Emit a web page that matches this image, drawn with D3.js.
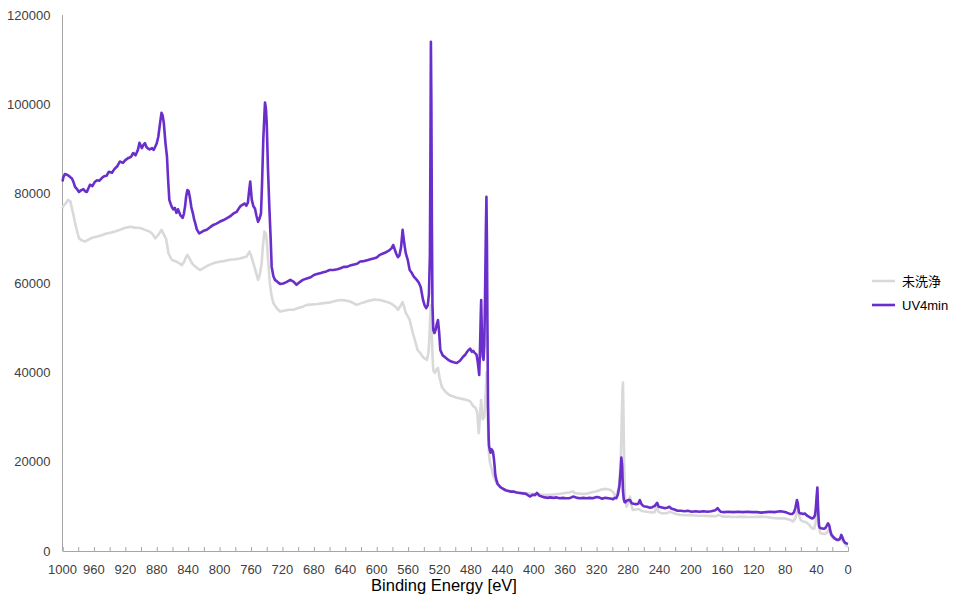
<!DOCTYPE html>
<html>
<head>
<meta charset="utf-8">
<script src="https://cdn.jsdelivr.net/npm/d3@7"></script>
<style>
  body { margin: 0; background: #fff; }
  text { font-family: "Liberation Sans", Arial, "Noto Sans CJK JP", sans-serif; }
</style>
</head>
<body>
<div id="chart"></div>
<script>

// binding energy (eV) and counts
const seriesNames = ['未洗浄', 'UV4min'];
const seriesColors = ['#d9d9d9', '#6a2ecb'];

const rawEnergy = [
  1000, 999, 996, 993, 990, 988, 986, 984, 981, 979, 975, 971, 966, 961, 956, 950, 944, 938, 932, 927,
  921, 914, 908, 901, 895, 889, 885, 882, 878, 874, 871, 868, 865, 861, 858, 855, 851, 848, 845, 843,
  841, 838, 835, 833, 829, 825, 820, 814, 808, 802, 795, 787, 780, 774, 770, 766, 764, 762, 760, 757,
  754, 751, 749, 746.5, 745, 743, 741, 740, 738, 736, 734, 731.6, 727, 723, 718, 712, 706, 700, 694,
  689, 682, 675, 668, 661, 654, 647, 640, 633, 625.5, 618, 610, 603, 596, 590, 584, 579, 575, 573,
  570, 567, 565, 563, 560, 558, 554, 551, 548, 544, 541, 538, 536, 534, 533, 532, 531, 530, 529, 528,
  526, 524, 522, 520, 517, 514, 511, 506, 498, 490, 485, 481, 477, 474, 472, 471, 470, 469, 468, 467,
  466, 465, 463, 461, 460, 459, 458, 457, 456, 455, 453, 452, 450, 448, 447, 445, 443, 440, 436, 431,
  426.5, 420, 414, 408, 402, 396, 390, 384, 378, 372, 366, 360, 355, 352, 350, 348, 345, 340, 333, 327,
  320, 313, 308, 303, 299, 297, 294, 291, 289, 288, 287, 286.5, 286, 285, 284, 282, 280, 277.5, 276, 274,
  270, 266, 264, 261, 256, 250, 246, 243.5, 241, 236, 230, 227, 224, 219, 214, 208, 200, 192, 184, 176,
  168, 164, 160, 152, 144, 136, 128, 120, 112, 104, 95, 88, 80, 74, 70, 67, 65, 63.7, 62, 60,
  57, 54, 50, 46, 43, 41, 39, 37.5, 35.6, 33, 30, 27, 25, 23, 21, 19, 16, 13, 10.6, 8.5,
  6, 4, 2, 0
];
const rawCounts = [
  76700, 77200, 77800, 78600, 78300, 76700, 75200, 73400, 71300, 70000, 69500, 69300, 69800, 70200, 70400, 70700, 71100, 71300, 71600, 71900,
  72300, 72600, 72400, 72300, 71900, 71500, 70900, 70000, 70800, 71900, 70900, 69800, 66600, 65200, 65000, 64800, 64400, 64000, 64800, 65700,
  66300, 65400, 64400, 64000, 63400, 62900, 63400, 64000, 64400, 64700, 64900, 65200, 65300, 65500, 65700, 65900, 66400, 67000, 66200, 64400,
  62600, 60700, 61700, 64400, 68000, 71500, 71000, 69600, 64500, 59900, 57300, 55500, 54300, 53600, 53800, 54000, 54000, 54400, 54700,
  55100, 55200, 55300, 55500, 55600, 55900, 56200, 56100, 55800, 55100, 55600, 56000, 56300, 56200, 55900, 55600, 55100, 54500, 54000,
  54800, 55700, 54600, 53300, 52400, 51700, 48800, 47000, 45000, 44200, 43400, 43000, 42800, 44500, 47500, 52000, 55000, 50000, 44000, 40500,
  39900, 40600, 41000, 38800, 36700, 36000, 35400, 34800, 34300, 34000, 33800, 33500, 32400, 32000, 31000, 28500, 26400, 29000, 31600, 33800,
  31000, 29500, 30000, 36000, 40000, 33000, 26000, 21500, 20000, 19300, 17900, 17000, 16200, 15400, 15000, 14700, 14300, 14000, 13700, 13500,
  13300, 13100, 13000, 12900, 12800, 12700, 12600, 12500, 12600, 12700, 12800, 13000, 13100, 13300, 13300, 13000, 12900, 12800, 12800, 13100,
  13400, 13800, 13900, 13700, 13200, 12500, 12800, 15000, 22000, 30000, 36500, 37700, 33000, 20000, 12500, 9900, 10600, 12200, 10400, 9200,
  9300, 9400, 9100, 8900, 8800, 8600, 8700, 9900, 8700, 8400, 8500, 8800, 8600, 8300, 8100, 8000, 8000, 7900, 7900, 7800,
  7800, 8100, 7700, 7700, 7600, 7700, 7600, 7600, 7700, 7600, 7400, 7300, 7300, 7000, 6600, 7300, 8700, 9200, 7800, 6900,
  6600, 6500, 6000, 5100, 5000, 6500, 11000, 8000, 4000, 3900, 3800, 4000, 4700, 4200, 3300, 2800, 2600, 2500, 2500, 2600,
  2200, 1600, 1100, 1100
];

const uvEnergy = [
  1000, 999, 997, 995, 992, 990, 988, 986, 984, 981, 979, 976, 973.5, 971, 969, 967, 965, 962, 959, 956,
  953, 950, 947, 944, 941, 937, 934, 930, 927, 923, 920, 916, 913, 910, 907, 904, 902, 900, 899, 897,
  895, 893, 891, 889, 886, 884, 882, 880, 878, 876, 874, 872.5, 871, 869, 867, 865.5, 864, 862.5, 861, 859,
  857, 855, 853, 850, 847, 845.5, 844, 842.5, 841, 839.5, 838, 836, 834, 832.5, 831, 829, 826, 823, 820, 816.4,
  812, 808, 804, 800, 795, 790, 786, 782, 778, 774, 771, 768, 766, 764, 762.5, 761, 759, 757, 755, 753,
  751, 749, 747.3, 746, 744.4, 743, 742.2, 741, 740, 738.5, 736.7, 735, 733.7, 731.5, 729.5, 726, 723, 719, 715, 710,
  706, 702, 698, 694, 689, 684, 680, 676, 672, 668, 664, 660, 655, 650, 646, 642, 638, 634, 630, 625,
  621, 616, 612, 608, 604, 600, 596, 592, 588, 584, 581, 579, 577, 575, 573, 571, 569, 567, 565, 563,
  560.5, 558, 555.5, 553, 551, 549, 546.5, 544, 541, 539, 537, 535, 533.5, 532.3, 531.6, 531, 530.4, 529.7, 529, 528,
  526.5, 525, 523.5, 522, 520.5, 519, 516, 513, 509, 505, 501, 498, 494, 490, 487, 485, 483, 481, 479, 477,
  475, 473, 471.5, 470.5, 469.5, 468.5, 467.5, 467, 466, 465, 464, 463, 462, 461, 460.3, 459.6, 459, 458.3, 457.5, 457,
  456, 455, 454, 453, 452, 451, 450, 449, 447.5, 446, 443, 440, 436, 430, 426, 422, 418, 414, 410, 405,
  401, 398.5, 396, 393, 390, 386, 383, 379, 375, 371, 367, 363, 359, 355, 352, 350, 348, 345, 341, 337,
  333, 329, 325, 320, 317, 313, 309, 305, 301, 299, 297, 295, 293, 291, 289.5, 288.5, 287.5, 286.5, 285.5, 284.5,
  283.5, 282, 280, 277.5, 275.5, 273, 270, 267, 265, 263, 260, 256, 252, 249, 246, 243, 241, 238, 234, 230,
  227.5, 225, 221, 217, 213, 208, 204, 199, 194, 189, 184, 179, 174, 169, 166, 164, 162, 158, 152, 146,
  140, 134, 128, 122, 116, 110, 104, 99, 94, 91, 86, 82, 78, 74, 71, 69, 67, 65, 64, 62.5,
  61, 59, 57, 55, 52, 49, 46, 44, 42, 41, 40, 39, 38, 37, 36, 34, 31, 29, 27, 25.5,
  24, 22.5, 21, 19, 16, 14, 12, 10, 8.5, 7, 5.5, 4, 2, 0
];
const uvCounts = [
  82700, 83600, 84400, 84300, 84000, 83700, 83400, 82600, 81500, 80900, 80400, 80800, 81000, 80500, 80400, 81200, 82000, 81700, 82600, 83000,
  82900, 83500, 83900, 84000, 84900, 84700, 85500, 86200, 87200, 86900, 87500, 88000, 88200, 89100, 88600, 89800, 91400, 90600, 90200, 90900,
  91300, 90400, 90100, 89900, 90200, 89800, 90500, 91300, 92800, 95500, 98100, 97500, 95800, 91500, 88300, 83000, 78600, 77800, 77100, 76500,
  76800, 75700, 76500, 75200, 74600, 75500, 77100, 79500, 80800, 80600, 79300, 77000, 75600, 74300, 73400, 72000, 71100, 71400, 71700, 71900,
  72500, 73000, 73300, 73700, 74100, 74600, 75000, 75600, 76000, 77100, 77500, 77800, 77300, 78000, 80500, 82700, 78600, 77200, 76700, 75000,
  73700, 74500, 75600, 82000, 92000, 97500, 100400, 99000, 95800, 86000, 77100, 70000, 63600, 61500, 60700, 60200, 59800, 59900, 60200, 60700,
  60300, 59600, 60200, 60700, 61000, 61300, 61800, 62000, 62200, 62400, 62600, 62900, 62900, 63100, 63300, 63600, 63600, 63900, 64100, 64300,
  64800, 64900, 65100, 65300, 65500, 65700, 66300, 66600, 66900, 67300, 67800, 68500, 67500, 66500, 65800, 66200, 68000, 71900, 69000, 66700,
  65200, 62900, 62300, 61500, 61100, 60700, 60100, 59100, 56200, 55000, 54400, 55000, 57500, 66000, 88000, 114000, 100000, 72000, 55000, 49500,
  48800, 49500, 50800, 51700, 49000, 45000, 43800, 43400, 42800, 42400, 42200, 42100, 42600, 43500, 44000, 44600, 45000, 45300, 44600, 44800,
  44300, 44000, 42500, 41000, 39400, 45000, 53000, 56200, 48000, 43500, 42800, 46000, 58000, 72000, 79300, 68000, 50000, 33000, 25500, 23500,
  22600, 22000, 22800, 22600, 22200, 21000, 19200, 17000, 15800, 15000, 14400, 14000, 13600, 13300, 13300, 13100, 13000, 12900, 12800, 12200,
  12600, 12500, 13000, 12400, 12200, 12000, 11900, 12000, 11900, 12000, 11800, 11900, 11800, 11800, 12000, 12200, 12100, 11900, 11800, 11900,
  11800, 11900, 11800, 12100, 12000, 11700, 11900, 11800, 11700, 11600, 11900, 11800, 12600, 14500, 18000, 20900, 19000, 13500, 11600, 11000,
  10900, 11200, 11400, 11400, 10700, 10600, 10500, 10600, 11400, 10500, 10000, 9900, 9700, 9800, 10100, 10800, 9900, 9800, 9600, 9700,
  9900, 9500, 9300, 9000, 9000, 8900, 9000, 8800, 8900, 8800, 8900, 8800, 8900, 9100, 9600, 9100, 8800, 8700, 8800, 8700,
  8800, 8700, 8800, 8700, 8700, 8600, 8700, 8800, 8700, 8800, 8900, 8800, 8600, 8300, 8300, 8600, 9600, 11400, 10800, 8700,
  8400, 8400, 8300, 8400, 7900, 7600, 7300, 7400, 8000, 9500, 12000, 14200, 9000, 5600, 5200, 5100, 5000, 5100, 5700, 6200,
  5800, 4500, 3600, 3200, 2700, 2500, 2500, 2800, 3600, 3000, 2300, 1900, 1700, 1600
];

const xTicks = d3.range(1000, -1, -20);
const xLabels = d3.range(1000, -1, -40);
const yTicks = [0, 20000, 40000, 60000, 80000, 100000, 120000];

const width = 960;
const height = 605;
const margin = {top: 15, right: 112, bottom: 54, left: 62.5};

const svg = d3.select('#chart')
              .append('svg')
              .attr('width', width)
              .attr('height', height);

const x = d3.scaleLinear()
            .domain([1000, 0])
            .range([margin.left, width - margin.right]);

const y = d3.scaleLinear()
            .domain([0, 120000])
            .range([height - margin.bottom, margin.top]);

const axisColor = '#a6a6a6';
const labelColor = '#404040';

// y axis: plain line and labels, no ticks
svg.append('line')
   .attr('x1', x(1000)).attr('x2', x(1000))
   .attr('y1', y(0)).attr('y2', y(120000))
   .attr('stroke', axisColor)
   .attr('stroke-width', 1);

svg.append('g')
   .selectAll('text')
   .data(yTicks)
   .join('text')
   .attr('x', margin.left - 12)
   .attr('y', d => y(d))
   .attr('dy', '0.35em')
   .attr('text-anchor', 'end')
   .attr('font-size', '13px')
   .attr('fill', labelColor)
   .text(d => d);

// x axis with inward ticks every 20 eV, labels every 40 eV
const xAxis = (g) => {
   g.attr('transform', `translate(0, ${y(0)})`)
    .call(d3.axisTop(x).tickValues(xTicks).tickSize(4).tickFormat(''))
   g.select('.domain').attr('stroke', axisColor);
   g.selectAll('.tick line').attr('stroke', axisColor);
}
svg.append('g').call(xAxis);

svg.append('g')
   .selectAll('text')
   .data(xLabels)
   .join('text')
   .attr('x', d => x(d))
   .attr('y', y(0) + 18)
   .attr('dy', '0.35em')
   .attr('text-anchor', 'middle')
   .attr('font-size', '13px')
   .attr('fill', labelColor)
   .text(d => d);

svg.append('text')
   .attr('x', 444)
   .attr('y', 591)
   .attr('text-anchor', 'middle')
   .attr('font-size', '16.5px')
   .attr('fill', '#000')
   .text('Binding Energy [eV]');

// spectra
const line = d3.line()
               .x(d => x(d[0]))
               .y(d => y(d[1]));

const rawData = rawEnergy.map((e, i) => [e, rawCounts[i]]);
const uvData = uvEnergy.map((e, i) => [e, uvCounts[i]]);

[rawData, uvData].forEach((data, i) => {
   svg.append('path')
      .datum(data)
      .attr('fill', 'none')
      .attr('stroke', seriesColors[i])
      .attr('stroke-width', 2.6)
      .attr('stroke-linejoin', 'round')
      .attr('d', line);
});

// legend
const legend = svg.append('g')
                  .selectAll('g')
                  .data(seriesNames)
                  .join('g')
                  .attr('transform', (d, i) => `translate(872, ${281 + i * 24})`);

legend.append('line')
      .attr('x1', 0).attr('x2', 23)
      .attr('stroke', (d, i) => seriesColors[i])
      .attr('stroke-width', 2.6);

legend.append('text')
      .attr('x', 30)
      .attr('dy', '0.35em')
      .attr('font-size', '13px')
      .attr('fill', '#000')
      .text(d => d);

</script>
</body>
</html>
